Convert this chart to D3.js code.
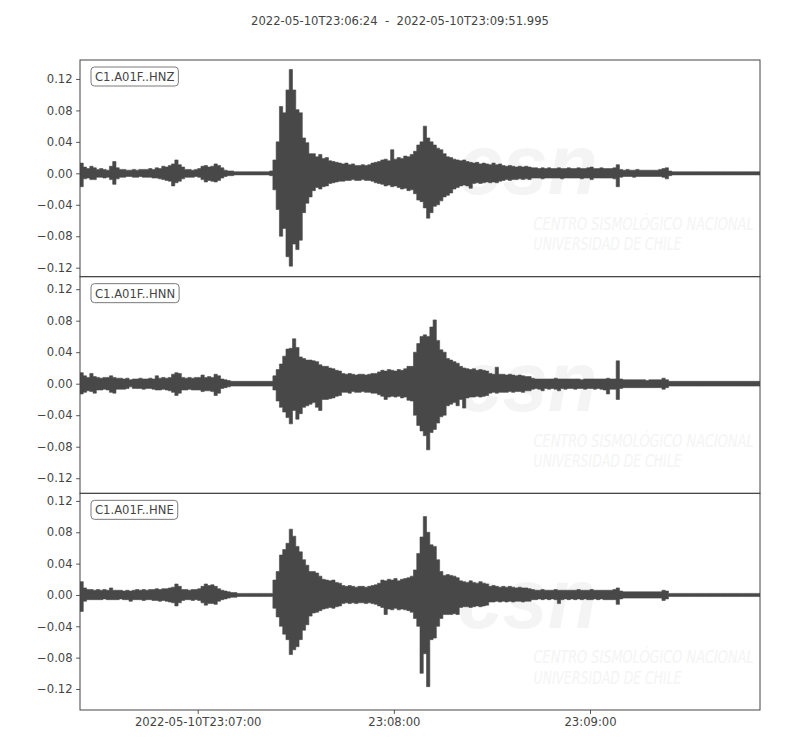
<!DOCTYPE html>
<html><head><meta charset="utf-8">
<script src="https://cdn.jsdelivr.net/npm/d3@7"></script>
<style>body{margin:0;background:#fff}</style>
</head><body>
<svg id="chart" width="800" height="750"></svg>
<script>
// ---------------- data ----------------
const startTime = "2022-05-10T23:06:24Z";
const endTime = "2022-05-10T23:09:51.995Z";
const titleText = "2022-05-10T23:06:24  -  2022-05-10T23:09:51.995";
const channels = ["C1.A01F..HNZ", "C1.A01F..HNN", "C1.A01F..HNE"];
const binSeconds = 1; // each value below = max / min of one 1-second window
const xTickTimes = ["2022-05-10T23:07:00Z", "2022-05-10T23:08:00Z", "2022-05-10T23:09:00Z"];
const xTickLabels = ["2022-05-10T23:07:00", "23:08:00", "23:09:00"];
const yTickValues = [0.12, 0.08, 0.04, 0, -0.04, -0.08, -0.12];
const yTickLabels = ["0.12", "0.08", "0.04", "0.00", "\u22120.04", "\u22120.08", "\u22120.12"];
const yLimits = [[-0.1314, 0.1441], [-0.1392, 0.1359], [-0.1468, 0.1297]];
const watermarkLines = ["CENTRO SISMOLÓGICO NACIONAL", "UNIVERSIDAD DE CHILE"];
const watermarkLogo = "csn";

const hnzMax = [
0.013,0.008,0.006,0.009,0.007,0.005,0.006,0.005,0.004,0.009,
0.015,0.007,0.005,0.005,0.004,0.004,0.005,0.004,0.005,0.005,
0.005,0.006,0.005,0.007,0.006,0.009,0.008,0.010,0.012,0.017,
0.011,0.008,0.005,0.005,0.004,0.005,0.006,0.009,0.010,0.008,
0.009,0.012,0.010,0.007,0.004,0.003,0.003,0.002,0.002,0.002,
0.002,0.002,0.002,0.002,0.002,0.002,0.002,0.002,0.003,0.017,
0.040,0.085,0.077,0.106,0.132,0.106,0.081,0.077,0.045,0.039,
0.025,0.025,0.021,0.024,0.019,0.020,0.016,0.015,0.014,0.013,
0.012,0.013,0.011,0.012,0.010,0.010,0.011,0.010,0.011,0.013,
0.014,0.015,0.017,0.018,0.016,0.030,0.018,0.020,0.019,0.022,
0.021,0.024,0.028,0.036,0.040,0.060,0.045,0.040,0.036,0.032,
0.030,0.025,0.021,0.020,0.018,0.017,0.016,0.017,0.015,0.014,
0.013,0.014,0.012,0.013,0.012,0.011,0.013,0.011,0.012,0.010,
0.009,0.010,0.009,0.008,0.009,0.008,0.009,0.008,0.007,0.007,
0.006,0.007,0.006,0.007,0.006,0.006,0.007,0.006,0.006,0.007,
0.006,0.006,0.007,0.006,0.006,0.007,0.008,0.006,0.006,0.007,
0.006,0.006,0.006,0.007,0.011,0.005,0.004,0.005,0.004,0.004,
0.005,0.004,0.004,0.004,0.004,0.004,0.004,0.005,0.006,0.007,
0.003,0.002,0.002,0.002,0.002,0.002,0.002,0.002,0.002,0.002,
0.002,0.002,0.002,0.002,0.002,0.002,0.002,0.002,0.002,0.002,
0.002,0.002,0.002,0.002,0.002,0.002,0.002,0.002];
const hnzMin = [
-0.017,-0.007,-0.006,-0.008,-0.008,-0.005,-0.005,-0.006,-0.005,-0.008,
-0.014,-0.007,-0.005,-0.005,-0.004,-0.004,-0.005,-0.005,-0.004,-0.005,
-0.005,-0.005,-0.006,-0.006,-0.007,-0.008,-0.009,-0.010,-0.016,-0.012,
-0.010,-0.007,-0.005,-0.005,-0.005,-0.004,-0.005,-0.008,-0.011,-0.009,
-0.010,-0.011,-0.009,-0.006,-0.004,-0.003,-0.003,-0.002,-0.002,-0.002,
-0.002,-0.002,-0.002,-0.002,-0.002,-0.002,-0.002,-0.002,-0.003,-0.021,
-0.046,-0.080,-0.070,-0.106,-0.118,-0.090,-0.097,-0.085,-0.050,-0.038,
-0.030,-0.022,-0.018,-0.020,-0.017,-0.016,-0.013,-0.012,-0.011,-0.010,
-0.010,-0.009,-0.009,-0.008,-0.009,-0.009,-0.008,-0.009,-0.009,-0.010,
-0.012,-0.013,-0.014,-0.016,-0.015,-0.017,-0.016,-0.018,-0.020,-0.019,
-0.022,-0.021,-0.026,-0.034,-0.036,-0.044,-0.057,-0.050,-0.042,-0.040,
-0.035,-0.030,-0.028,-0.025,-0.020,-0.018,-0.016,-0.015,-0.016,-0.019,
-0.013,-0.012,-0.013,-0.012,-0.011,-0.012,-0.011,-0.012,-0.010,-0.009,
-0.008,-0.009,-0.008,-0.008,-0.007,-0.008,-0.007,-0.008,-0.006,-0.006,
-0.006,-0.007,-0.006,-0.006,-0.006,-0.006,-0.006,-0.007,-0.006,-0.006,
-0.006,-0.006,-0.006,-0.007,-0.006,-0.006,-0.008,-0.006,-0.006,-0.006,
-0.006,-0.006,-0.006,-0.007,-0.017,-0.005,-0.004,-0.004,-0.004,-0.005,
-0.004,-0.004,-0.004,-0.004,-0.004,-0.004,-0.004,-0.004,-0.005,-0.007,
-0.003,-0.002,-0.002,-0.002,-0.002,-0.002,-0.002,-0.002,-0.002,-0.002,
-0.002,-0.002,-0.002,-0.002,-0.002,-0.002,-0.002,-0.002,-0.002,-0.002,
-0.002,-0.002,-0.002,-0.002,-0.002,-0.002,-0.002,-0.002];

const hnnMax = [
0.014,0.010,0.008,0.013,0.009,0.008,0.007,0.008,0.008,0.010,
0.008,0.007,0.007,0.006,0.007,0.005,0.006,0.006,0.007,0.006,
0.006,0.007,0.006,0.010,0.007,0.008,0.007,0.008,0.012,0.014,
0.013,0.008,0.007,0.008,0.007,0.008,0.008,0.011,0.008,0.009,
0.008,0.012,0.010,0.006,0.005,0.004,0.003,0.003,0.003,0.003,
0.003,0.003,0.003,0.003,0.003,0.003,0.003,0.003,0.003,0.010,
0.018,0.025,0.035,0.044,0.045,0.057,0.046,0.034,0.032,0.030,
0.030,0.029,0.028,0.024,0.022,0.022,0.020,0.019,0.017,0.016,
0.013,0.012,0.013,0.012,0.011,0.012,0.012,0.011,0.012,0.013,
0.013,0.015,0.017,0.016,0.018,0.017,0.016,0.018,0.017,0.019,
0.022,0.022,0.040,0.051,0.060,0.062,0.060,0.072,0.081,0.055,
0.043,0.040,0.032,0.030,0.028,0.026,0.022,0.020,0.019,0.018,
0.019,0.017,0.018,0.017,0.016,0.013,0.012,0.021,0.012,0.012,
0.011,0.012,0.011,0.010,0.011,0.010,0.009,0.009,0.007,0.006,
0.006,0.006,0.006,0.006,0.006,0.007,0.006,0.006,0.006,0.006,
0.006,0.006,0.006,0.005,0.006,0.006,0.006,0.006,0.006,0.006,
0.006,0.007,0.006,0.006,0.029,0.006,0.005,0.005,0.005,0.005,
0.005,0.005,0.005,0.004,0.005,0.005,0.005,0.005,0.007,0.005,
0.003,0.003,0.003,0.003,0.003,0.003,0.003,0.003,0.003,0.003,
0.003,0.003,0.003,0.003,0.003,0.003,0.003,0.003,0.003,0.003,
0.003,0.003,0.003,0.003,0.003,0.003,0.003,0.003];
const hnnMin = [
-0.013,-0.011,-0.009,-0.010,-0.012,-0.008,-0.008,-0.007,-0.008,-0.011,
-0.012,-0.007,-0.007,-0.007,-0.006,-0.004,-0.006,-0.006,-0.006,-0.007,
-0.006,-0.006,-0.007,-0.008,-0.008,-0.007,-0.008,-0.009,-0.011,-0.015,
-0.012,-0.008,-0.008,-0.007,-0.008,-0.008,-0.008,-0.010,-0.009,-0.009,
-0.010,-0.015,-0.012,-0.006,-0.005,-0.004,-0.003,-0.003,-0.003,-0.003,
-0.003,-0.003,-0.003,-0.003,-0.003,-0.003,-0.003,-0.003,-0.003,-0.008,
-0.022,-0.030,-0.036,-0.043,-0.051,-0.034,-0.045,-0.038,-0.030,-0.028,
-0.026,-0.024,-0.030,-0.034,-0.020,-0.020,-0.019,-0.018,-0.016,-0.015,
-0.011,-0.011,-0.012,-0.010,-0.011,-0.011,-0.010,-0.011,-0.011,-0.012,
-0.012,-0.014,-0.016,-0.020,-0.017,-0.016,-0.017,-0.016,-0.018,-0.017,
-0.021,-0.022,-0.040,-0.053,-0.060,-0.066,-0.084,-0.062,-0.058,-0.050,
-0.042,-0.040,-0.028,-0.026,-0.024,-0.028,-0.020,-0.031,-0.018,-0.017,
-0.017,-0.016,-0.017,-0.016,-0.015,-0.012,-0.011,-0.012,-0.011,-0.011,
-0.011,-0.010,-0.011,-0.010,-0.010,-0.011,-0.009,-0.009,-0.007,-0.006,
-0.007,-0.009,-0.006,-0.007,-0.006,-0.007,-0.009,-0.006,-0.007,-0.006,
-0.006,-0.007,-0.006,-0.006,-0.007,-0.006,-0.006,-0.007,-0.006,-0.007,
-0.008,-0.013,-0.007,-0.007,-0.020,-0.006,-0.005,-0.005,-0.005,-0.005,
-0.005,-0.005,-0.005,-0.005,-0.005,-0.005,-0.005,-0.005,-0.007,-0.005,
-0.003,-0.003,-0.003,-0.003,-0.003,-0.003,-0.003,-0.003,-0.003,-0.003,
-0.003,-0.003,-0.003,-0.003,-0.003,-0.003,-0.003,-0.003,-0.003,-0.003,
-0.003,-0.003,-0.003,-0.003,-0.003,-0.003,-0.003,-0.003];

const hneMax = [
0.017,0.009,0.007,0.007,0.006,0.007,0.006,0.007,0.006,0.009,
0.006,0.006,0.006,0.005,0.006,0.005,0.006,0.007,0.006,0.007,
0.006,0.007,0.007,0.008,0.007,0.008,0.008,0.009,0.010,0.014,
0.011,0.007,0.007,0.006,0.007,0.007,0.008,0.011,0.014,0.012,
0.013,0.011,0.008,0.006,0.005,0.004,0.003,0.003,0.002,0.002,
0.002,0.002,0.002,0.002,0.002,0.002,0.002,0.002,0.002,0.019,
0.030,0.051,0.058,0.066,0.084,0.075,0.062,0.055,0.045,0.038,
0.030,0.030,0.028,0.024,0.020,0.019,0.018,0.019,0.016,0.015,
0.012,0.011,0.012,0.011,0.010,0.011,0.011,0.010,0.011,0.012,
0.013,0.015,0.019,0.018,0.020,0.019,0.021,0.018,0.020,0.021,
0.022,0.024,0.032,0.053,0.074,0.100,0.080,0.064,0.062,0.045,
0.030,0.025,0.026,0.025,0.024,0.022,0.018,0.017,0.016,0.018,
0.016,0.015,0.017,0.015,0.014,0.011,0.012,0.011,0.010,0.011,
0.010,0.011,0.010,0.009,0.010,0.009,0.009,0.008,0.007,0.006,
0.006,0.007,0.006,0.006,0.006,0.007,0.006,0.006,0.006,0.006,
0.006,0.006,0.007,0.006,0.006,0.006,0.007,0.006,0.006,0.006,
0.006,0.006,0.006,0.007,0.009,0.005,0.004,0.004,0.004,0.004,
0.004,0.004,0.004,0.004,0.004,0.004,0.004,0.004,0.006,0.005,
0.002,0.002,0.002,0.002,0.002,0.002,0.002,0.002,0.002,0.002,
0.002,0.002,0.002,0.002,0.002,0.002,0.002,0.002,0.002,0.002,
0.002,0.002,0.002,0.002,0.002,0.002,0.002,0.002];
const hneMin = [
-0.021,-0.008,-0.006,-0.006,-0.006,-0.006,-0.006,-0.005,-0.006,-0.006,
-0.006,-0.006,-0.005,-0.006,-0.006,-0.008,-0.006,-0.006,-0.006,-0.007,
-0.006,-0.006,-0.007,-0.007,-0.008,-0.007,-0.008,-0.009,-0.010,-0.014,
-0.010,-0.007,-0.006,-0.006,-0.007,-0.006,-0.007,-0.010,-0.013,-0.011,
-0.011,-0.012,-0.008,-0.006,-0.005,-0.004,-0.003,-0.003,-0.002,-0.002,
-0.002,-0.002,-0.002,-0.002,-0.002,-0.002,-0.002,-0.002,-0.002,-0.017,
-0.028,-0.040,-0.050,-0.057,-0.076,-0.070,-0.066,-0.057,-0.045,-0.038,
-0.027,-0.023,-0.022,-0.020,-0.018,-0.017,-0.016,-0.017,-0.015,-0.014,
-0.011,-0.010,-0.011,-0.010,-0.011,-0.010,-0.010,-0.011,-0.010,-0.011,
-0.012,-0.014,-0.016,-0.025,-0.018,-0.019,-0.017,-0.019,-0.018,-0.019,
-0.020,-0.022,-0.030,-0.040,-0.100,-0.075,-0.117,-0.057,-0.055,-0.040,
-0.030,-0.025,-0.025,-0.025,-0.024,-0.025,-0.016,-0.015,-0.015,-0.016,
-0.015,-0.014,-0.015,-0.014,-0.013,-0.009,-0.009,-0.008,-0.009,-0.008,
-0.009,-0.008,-0.009,-0.008,-0.008,-0.009,-0.008,-0.008,-0.006,-0.006,
-0.005,-0.006,-0.005,-0.006,-0.005,-0.006,-0.011,-0.006,-0.005,-0.006,
-0.005,-0.006,-0.005,-0.006,-0.005,-0.006,-0.006,-0.005,-0.006,-0.005,
-0.006,-0.006,-0.006,-0.006,-0.012,-0.005,-0.004,-0.004,-0.004,-0.004,
-0.004,-0.004,-0.004,-0.004,-0.004,-0.004,-0.004,-0.004,-0.007,-0.005,
-0.002,-0.002,-0.002,-0.002,-0.002,-0.002,-0.002,-0.002,-0.002,-0.002,
-0.002,-0.002,-0.002,-0.002,-0.002,-0.002,-0.002,-0.002,-0.002,-0.002,
-0.002,-0.002,-0.002,-0.002,-0.002,-0.002,-0.002,-0.002];

// ---------------- drawing ----------------
const W = 800, H = 750;
const margin = {left: 80, right: 40, top: 60, bottom: 40};
const plotW = W - margin.left - margin.right;
const panelH = (H - margin.top - margin.bottom) / 3;
const ink = "#444444";
const waveColor = "#484848";
const font = "'DejaVu Sans', sans-serif";
const fontSize = "11.6px";

const svg = d3.select("#chart");
const t0 = new Date(startTime);
const x = d3.scaleUtc().domain([t0, new Date(endTime)]).range([margin.left, margin.left + plotW]);

const series = [
  {name: channels[0], max: hnzMax, min: hnzMin},
  {name: channels[1], max: hnnMax, min: hnnMin},
  {name: channels[2], max: hneMax, min: hneMin}
];

svg.append("text")
  .attr("x", W / 2).attr("y", 25)
  .attr("text-anchor", "middle")
  .attr("xml:space", "preserve")
  .style("white-space", "pre")
  .attr("font-family", font).attr("font-size", fontSize)
  .attr("fill", ink)
  .text(titleText);

const defs = svg.append("defs");

series.forEach((s, i) => {
  const top = margin.top + i * panelH;
  const y = d3.scaleLinear().domain(yLimits[i]).range([top + panelH, top]);
  const g = svg.append("g");

  defs.append("clipPath").attr("id", "clip" + i)
    .append("rect").attr("x", margin.left).attr("y", top).attr("width", plotW).attr("height", panelH);

  // faint watermark
  const wm = g.append("g").attr("fill", "#f4f4f4");
  wm.append("text")
    .attr("x", margin.left + plotW * 0.555).attr("y", top + panelH * 0.62)
    .attr("font-family", "'Liberation Sans', Arial, sans-serif")
    .attr("font-weight", "bold").attr("font-style", "italic")
    .attr("font-size", "86px")
    .attr("textLength", 140).attr("lengthAdjust", "spacingAndGlyphs")
    .text(watermarkLogo);
  watermarkLines.forEach((line, k) => {
    wm.append("g")
      .attr("transform", `translate(${margin.left + plotW * 0.667},${top + panelH * (0.785 + k * 0.093)}) scale(1,1.3)`)
      .append("text")
      .attr("x", 0).attr("y", 0)
      .attr("font-family", "'DejaVu Sans Condensed', 'DejaVu Sans', sans-serif")
      .attr("font-stretch", "condensed")
      .attr("font-style", "italic")
      .attr("font-size", "14px")
      .attr("textLength", k === 0 ? 220 : 148).attr("lengthAdjust", "spacingAndGlyphs")
      .text(line);
  });

  // waveform: per-second min/max windows drawn as a stepped band
  const pts = s.max.map((v, k) => ({
    t: new Date(t0.getTime() + k * binSeconds * 1000),
    hi: v, lo: s.min[k]
  }));
  const last = pts[pts.length - 1];
  pts.push({t: new Date(t0.getTime() + s.max.length * binSeconds * 1000), hi: last.hi, lo: last.lo});
  const area = d3.area()
    .curve(d3.curveStepAfter)
    .x(d => x(d.t))
    .y0(d => y(d.lo))
    .y1(d => y(d.hi));
  g.append("path")
    .attr("d", area(pts))
    .attr("fill", waveColor)
    .attr("stroke", waveColor)
    .attr("stroke-width", 0.6)
    .attr("clip-path", `url(#clip${i})`);

  // y axis
  const yAxis = d3.axisLeft(y)
    .tickValues(yTickValues)
    .tickFormat((d, j) => yTickLabels[j])
    .tickSize(3.9).tickPadding(3.5);
  const ya = g.append("g").attr("transform", `translate(${margin.left},0)`).call(yAxis);
  ya.select(".domain").remove();
  ya.selectAll("line").attr("stroke", ink).attr("stroke-width", 0.9);
  ya.selectAll("text").attr("fill", ink).attr("font-family", font).attr("font-size", fontSize);

  // frame
  g.append("rect")
    .attr("x", margin.left).attr("y", top)
    .attr("width", plotW).attr("height", panelH)
    .attr("fill", "none").attr("stroke", ink).attr("stroke-width", 1);

  // channel label box
  const lbl = g.append("g");
  const txt = lbl.append("text")
    .attr("x", margin.left + 15).attr("y", top + 21)
    .attr("font-family", font).attr("font-size", fontSize)
    .attr("fill", ink)
    .text(s.name);
  const tw = txt.node().getComputedTextLength();
  lbl.insert("rect", "text")
    .attr("x", margin.left + 11).attr("y", top + 7)
    .attr("width", tw + 8).attr("height", 19)
    .attr("rx", 3.5).attr("ry", 3.5)
    .attr("fill", "#ffffff").attr("fill-opacity", 0.8)
    .attr("stroke", "#7a7a7a").attr("stroke-width", 1);
});

// x axis at the bottom
const xAxis = d3.axisBottom(x)
  .tickValues(xTickTimes.map(d => new Date(d)))
  .tickFormat((d, j) => xTickLabels[j])
  .tickSize(3.9).tickPadding(3.5);
const xa = svg.append("g").attr("transform", `translate(0,${H - margin.bottom})`).call(xAxis);
xa.select(".domain").remove();
xa.selectAll("line").attr("stroke", ink).attr("stroke-width", 0.9);
xa.selectAll("text").attr("fill", ink).attr("font-family", font).attr("font-size", fontSize);
</script>
</body></html>
